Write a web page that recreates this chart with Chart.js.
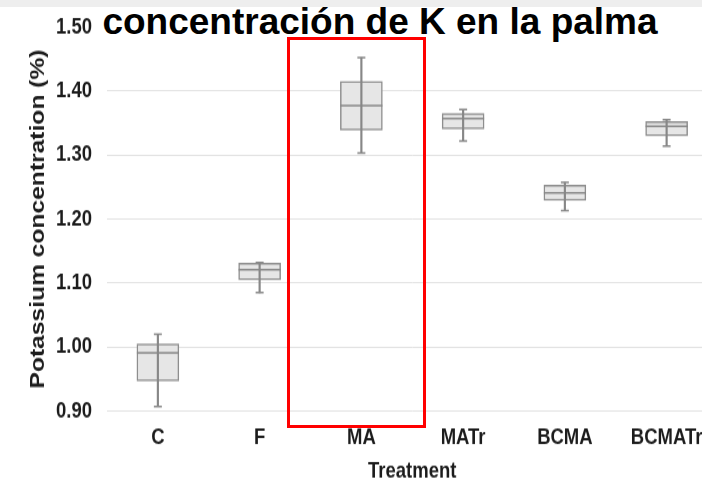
<!DOCTYPE html>
<html>
<head>
<meta charset="utf-8">
<script src="https://cdn.jsdelivr.net/npm/chart.js@4/dist/chart.umd.min.js"></script>
<style>
  html, body { margin: 0; padding: 0; width: 702px; height: 484px; overflow: hidden; background: #fff; }
  #plot { position: absolute; left: 0; top: 0; width: 740px; height: 404px; transform: scaleY(1.2); transform-origin: 0 0; }
  #band { position: absolute; left: 0; top: 0; width: 702px; height: 7px; background: #eeeeee; }
  #title { position: absolute; left: 98px; top: 7px; width: 604px; height: 36px; background: #fff; }
  #title span { position: absolute; left: 0; top: -4px; width: 564px; text-align: center; font: bold 37px 'Liberation Sans', Arial, sans-serif; line-height: 37px; color: #000; white-space: nowrap; }
  #focus { position: absolute; left: 287px; top: 37px; width: 139px; height: 391px; border: 3px solid #ff0000; box-sizing: border-box; }
</style>
</head>
<body>
<div id="plot"><canvas id="c"></canvas></div>
<div id="band"></div>
<div id="title"><span>concentración de K en la palma</span></div>
<div id="focus"></div>
<script>
// Potassium concentration (%) per treatment: five-number summaries
const categories = ['C', 'F', 'MA', 'MATr', 'BCMA', 'BCMATr'];
const whiskerLow  = [0.907, 1.085, 1.303, 1.322, 1.213, 1.314];
const q1          = [0.947, 1.105, 1.339, 1.341, 1.229, 1.330];
const median      = [0.991, 1.121, 1.377, 1.357, 1.241, 1.345];
const q3          = [1.005, 1.131, 1.415, 1.365, 1.253, 1.352];
const whiskerHigh = [1.020, 1.132, 1.452, 1.371, 1.257, 1.355];
const yTicks = [0.90, 1.00, 1.10, 1.20, 1.30, 1.40, 1.50];

const boxFill = '#e6e6e6';
const boxEdge = '#8e8e8e';
const whiskerColor = '#878787';
const fontFamily = "'Liberation Sans', Arial, Helvetica, sans-serif";

const boxes = categories.map((_, i) => [q1[i], q3[i]]);
const whiskers = categories.map((_, i) => [whiskerLow[i], whiskerHigh[i]]);

function markerSet(values, radius, order) {
  return {
    type: 'line',
    data: values,
    showLine: false,
    pointStyle: 'line',
    pointRadius: radius,
    pointHoverRadius: radius,
    pointBorderWidth: 1.5,
    pointBorderColor: whiskerColor,
    pointBackgroundColor: whiskerColor,
    order: order
  };
}

new Chart(document.getElementById('c'), {
  type: 'bar',
  data: {
    labels: categories,
    datasets: [
      {
        label: 'IQR',
        data: boxes,
        backgroundColor: boxFill,
        borderColor: boxEdge,
        borderWidth: 1.5,
        borderSkipped: false,
        barThickness: 42,
        grouped: false,
        order: 3
      },
      {
        label: 'Range',
        data: whiskers,
        backgroundColor: whiskerColor,
        borderWidth: 0,
        barThickness: 1.5,
        grouped: false,
        order: 2
      },
      markerSet(median, 21, 1),
      markerSet(whiskerLow, 4, 1),
      markerSet(whiskerHigh, 4, 1)
    ]
  },
  options: {
    responsive: true,
    maintainAspectRatio: false,
    animation: false,
    events: [],
    layout: { padding: { top: 20.4, right: 21, bottom: 0, left: 0 } },
    plugins: { legend: { display: false }, tooltip: { enabled: false }, title: { display: false } },
    scales: {
      x: {
        offset: true,
        grid: { display: false, drawTicks: false },
        border: { display: false },
        ticks: { color: '#1c1c1c', padding: 11.4, font: { family: fontFamily, size: 18.5, weight: 'bold' } },
        title: { display: true, text: 'Treatment', color: '#1c1c1c', padding: { top: 0, bottom: 0 },
                 font: { family: fontFamily, size: 18.5, weight: 'bold' } },
        afterFit: (s) => { s.height = 61.5; }
      },
      y: {
        min: yTicks[0],
        max: yTicks[yTicks.length - 1],
        afterBuildTicks: (s) => { s.ticks = yTicks.map(v => ({ value: v })); },
        grid: { color: '#e2e2e2', lineWidth: 1, drawTicks: false },
        border: { display: false },
        ticks: { color: '#1c1c1c', padding: 15, font: { family: fontFamily, size: 18.5, weight: 'bold' },
                 callback: (v) => Number(v).toFixed(2) },
        title: { display: true, text: 'Potassium concentration (%)', color: '#1c1c1c',
                 padding: { top: 26, bottom: 0 }, font: { family: fontFamily, size: 20.5, weight: 'bold' } },
        afterFit: (s) => { s.width = 107; s.paddingTop = 0; s.paddingBottom = 0; }
      }
    }
  }
});
</script>
</body>
</html>
